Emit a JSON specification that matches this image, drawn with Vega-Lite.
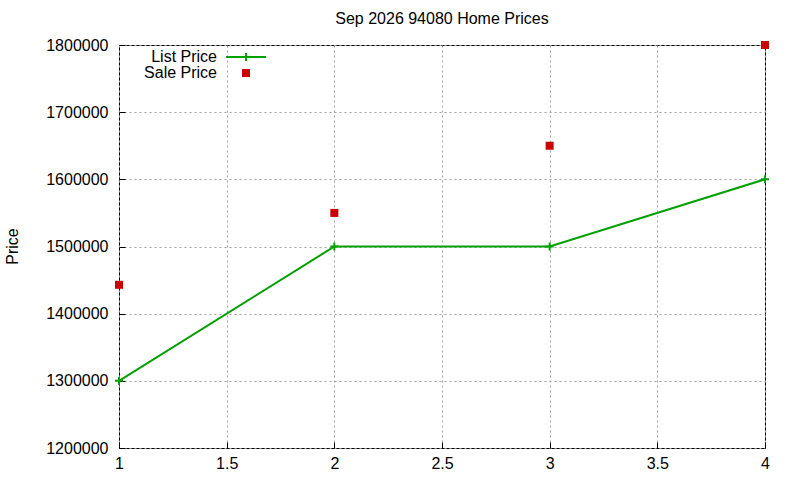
{
  "$schema": "https://vega.github.io/schema/vega-lite/v6.json",
  "width": 646,
  "height": 403,
  "autosize": "none",
  "padding": {"left": 119, "top": 45, "right": 35, "bottom": 32},
  "background": "white",
  "config": {
    "font": "Liberation Sans",
    "view": {"stroke": "black", "strokeWidth": 1},
    "axis": {
      "domain": false,
      "grid": true,
      "gridColor": "#a0a0a0",
      "gridDash": [2, 3],
      "gridWidth": 1,
      "ticks": true,
      "tickColor": "black",
      "tickSize": -6,
      "labelFontSize": 16,
      "labelColor": "black",
      "labelFont": "Liberation Sans",
      "titleFont": "Liberation Sans",
      "titleFontSize": 16,
      "titleFontWeight": "normal",
      "titleColor": "black"
    }
  },
  "title": {
    "text": "Sep 2026 94080 Home Prices",
    "fontSize": 16,
    "fontWeight": "normal",
    "font": "Liberation Sans",
    "color": "black",
    "anchor": "middle",
    "offset": 10
  },
  "data": {
    "values": [
      {"x": 1, "price": 1300000, "series": "List Price"},
      {"x": 2, "price": 1500000, "series": "List Price"},
      {"x": 3, "price": 1500000, "series": "List Price"},
      {"x": 4, "price": 1600000, "series": "List Price"},
      {"x": 1, "price": 1443000, "series": "Sale Price"},
      {"x": 2, "price": 1550000, "series": "Sale Price"},
      {"x": 3, "price": 1650000, "series": "Sale Price"},
      {"x": 4, "price": 1800000, "series": "Sale Price"}
    ]
  },
  "encoding": {
    "x": {
      "field": "x",
      "type": "quantitative",
      "scale": {"domain": [1, 4], "nice": false, "zero": false},
      "axis": {"values": [1, 1.5, 2, 2.5, 3, 3.5, 4], "format": "~g", "title": null, "labelPadding": 13, "labelFlush": false}
    },
    "y": {
      "field": "price",
      "type": "quantitative",
      "scale": {"domain": [1200000, 1800000], "nice": false, "zero": false},
      "axis": {
        "values": [1200000, 1300000, 1400000, 1500000, 1600000, 1700000, 1800000],
        "format": "d",
        "title": "Price",
        "labelPadding": 17,
        "titleAngle": -90,
        "titleX": -107,
        "titleY": 201,
        "titleAlign": "center",
        "titleBaseline": "middle"
      }
    }
  },
  "layer": [
    {
      "transform": [{"filter": "datum.series == 'List Price'"}],
      "mark": {"type": "line", "color": "#00a000", "strokeWidth": 2}
    },
    {
      "transform": [{"filter": "datum.series == 'List Price'"}],
      "mark": {"type": "point", "shape": "M-1,0H1M0,-1V1", "size": 64, "filled": false, "color": "#00a000", "strokeWidth": 2, "opacity": 1}
    },
    {
      "transform": [{"filter": "datum.series == 'Sale Price'"}],
      "mark": {"type": "point", "size": 64, "filled": true, "opacity": 1},
      "encoding": {
        "color": {
          "field": "series",
          "type": "nominal",
          "scale": {"domain": ["List Price", "Sale Price"], "range": ["#00a000", "#cc0000"]},
          "legend": {
            "title": null,
            "orient": "none",
            "legendX": 119,
            "legendY": 4,
            "padding": 0,
            "labelAlign": "right",
            "labelOffset": -37,
            "labelFontSize": 16,
            "labelColor": "black",
            "labelFont": "Liberation Sans",
            "rowPadding": -1,
            "symbolSize": 64,
            "symbolOpacity": 1,
            "symbolStrokeWidth": 2,
            "encode": {
              "symbols": {
                "update": {
                  "fill": {"signal": "datum.value === 'Sale Price' ? '#cc0000' : 'transparent'"},
                  "stroke": {"signal": "datum.value === 'List Price' ? '#00a000' : 'transparent'"}
                }
              }
            }
          }
        },
        "shape": {
          "field": "series",
          "type": "nominal",
          "scale": {"domain": ["List Price", "Sale Price"], "range": ["M-5,0H5M0,-1V1", "square"]}
        }
      }
    }
  ]
}
